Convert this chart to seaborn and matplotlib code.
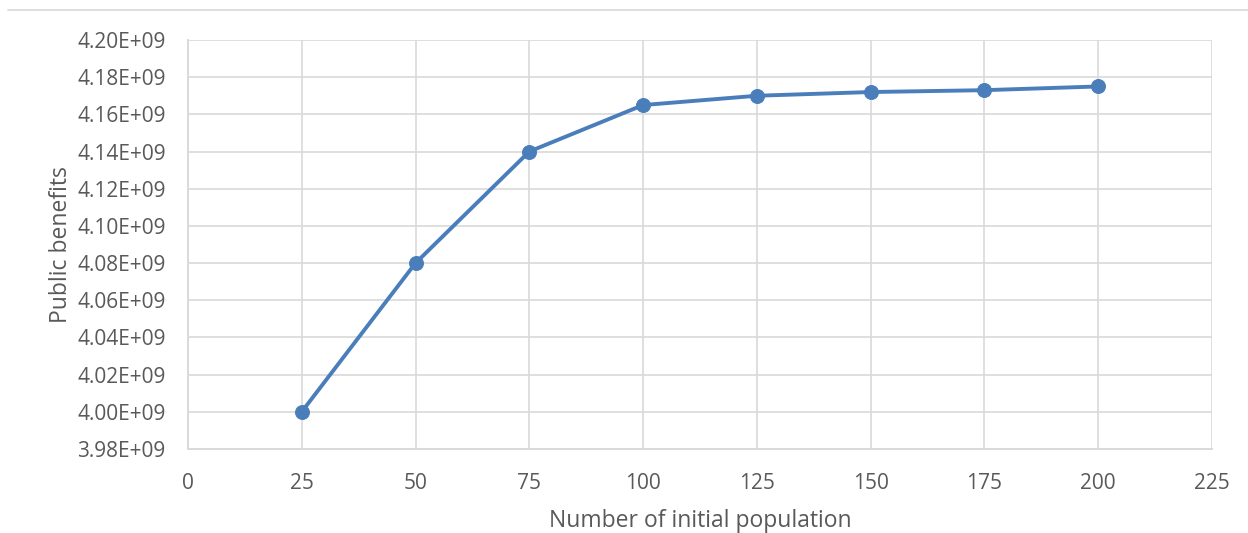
import matplotlib
matplotlib.use("Agg")
import matplotlib.pyplot as plt
from matplotlib.lines import Line2D
import seaborn as sns
import pandas as pd

population = [25, 50, 75, 100, 125, 150, 175, 200]
benefits = [4.000e9, 4.080e9, 4.140e9, 4.165e9, 4.170e9, 4.172e9, 4.173e9, 4.175e9]
x_ticks = [0, 25, 50, 75, 100, 125, 150, 175, 200, 225]
y_ticks = [3.98e9, 4.00e9, 4.02e9, 4.04e9, 4.06e9, 4.08e9, 4.10e9, 4.12e9, 4.14e9, 4.16e9, 4.18e9, 4.20e9]

sns.set_theme(style="white")
plt.rcParams['font.family'] = ['Open Sans', 'DejaVu Sans']

df = pd.DataFrame({"pop": population, "ben": benefits})

fig = plt.figure(figsize=(12.48, 5.33), dpi=100)
ax = fig.add_axes([0.1506, 0.1576, 0.9712 - 0.1506, 0.925 - 0.1576])

grid_c = "#d9d9d9"
text_c = "#595959"
line_c = "#4A7EBB"

sns.lineplot(data=df, x="pop", y="ben", ax=ax, color=line_c, linewidth=2.8,
             marker="o", markersize=10, markeredgecolor=line_c, zorder=3)

ax.set_xlim(0, 225)
ax.set_ylim(3.98e9, 4.20e9)
ax.set_xticks(x_ticks)
ax.set_yticks(y_ticks)
ax.set_xticklabels([str(v) for v in x_ticks])
ax.set_yticklabels([f"{v/1e9:.2f}E+09" for v in y_ticks])
ax.grid(True, color=grid_c, linewidth=1.2)
ax.set_axisbelow(True)
for s in ["top", "right"]:
    ax.spines[s].set_visible(False)
for s in ["left", "bottom"]:
    ax.spines[s].set_color(grid_c)
    ax.spines[s].set_linewidth(1.4)
ax.tick_params(axis="both", length=0, labelsize=15, colors=text_c)
ax.tick_params(axis="y", pad=16)
ax.tick_params(axis="x", pad=17)
ax.set_xlabel("Number of initial population", fontsize=16.5, color=text_c, labelpad=11)
ax.set_ylabel("Public benefits", fontsize=16.5, color=text_c, labelpad=3)

fig.add_artist(Line2D([8 / 1248, 1.0], [1 - 10 / 533, 1 - 10 / 533],
                      color="#d9d9d9", linewidth=1.2, transform=fig.transFigure))

fig.savefig("out.png", dpi=100, facecolor="white")
